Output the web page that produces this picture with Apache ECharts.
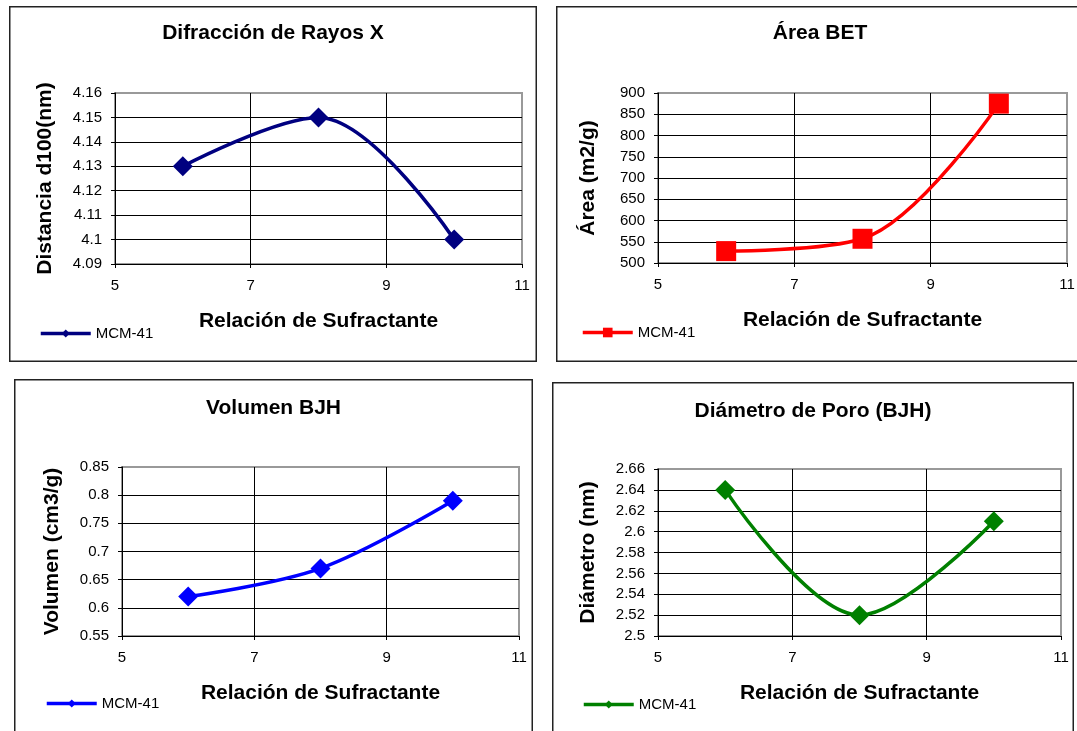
<!DOCTYPE html>
<html>
<head>
<meta charset="utf-8">
<script src="https://cdn.jsdelivr.net/npm/echarts@6/dist/echarts.min.js"></script>
<style>
    html, body { margin: 0; padding: 0; background: #fff; width: 1077px; height: 731px; overflow: hidden; }
    .panel { position: absolute; }
</style>
</head>
<body>
<div id="p1" class="panel" style="left:9px; top:6px; width:528px; height:356px;"></div>
<div id="p2" class="panel" style="left:556px; top:6px; width:528px; height:356px;"></div>
<div id="p3" class="panel" style="left:14px; top:379px; width:519px; height:360px;"></div>
<div id="p4" class="panel" style="left:552px; top:382px; width:522px; height:360px;"></div>
<script>
// datos
const relacion = [6, 8, 10];               // relacion de sufractante (eje x)
const distancia = [4.13, 4.15, 4.10];      // d100 (nm)
const areaBET = [528, 557, 875];           // m2/g
const volumenBJH = [0.62, 0.67, 0.79];     // cm3/g
const diametroBJH = [2.64, 2.52, 2.61];    // nm

// ejes: [min, max, intervalo]
const xRange = [5, 11, 2];
const yDistancia = [4.09, 4.16, 0.01];
const yArea = [500, 900, 50];
const yVolumen = [0.55, 0.85, 0.05];
const yDiametro = [2.5, 2.66, 0.02];

const FONT = "'Liberation Sans', Arial, sans-serif";

function makeOption(p) {
    return {
        animation: false,
        title: {
            text: p.title,
            left: 'center',
            top: p.titleTop,
            textStyle: { fontFamily: FONT, fontSize: 21, fontWeight: 'bold', color: '#000' }
        },
        legend: {
            data: ['MCM-41'],
            left: p.legendLeft,
            top: p.legendTop,
            padding: 0,
            itemWidth: 50,
            itemHeight: p.legendH,
            lineStyle: { width: 3.5 },
            textStyle: { fontFamily: FONT, fontSize: 15, color: '#000' }
        },
        graphic: [{
            type: 'rect',
            shape: { x: 0.75, y: 0.75, width: p.w - 1.5, height: p.h - 1.5 },
            style: { fill: 'none', stroke: '#222', lineWidth: 1.5 },
            silent: true
        }],
        grid: {
            left: p.grid[0], top: p.grid[1], width: p.grid[2], height: p.grid[3],
            show: true,
            borderColor: '#999',
            borderWidth: 2
        },
        xAxis: {
            type: 'value',
            min: xRange[0], max: xRange[1], interval: xRange[2],
            name: 'Relación de Sufractante',
            nameLocation: 'middle',
            nameGap: 47,
            nameTextStyle: { fontFamily: FONT, fontSize: 21, fontWeight: 'bold', color: '#000' },
            axisLine: { show: true, lineStyle: { color: '#000', width: 1 } },
            axisTick: { show: true, inside: false, length: 4, lineStyle: { color: '#000' } },
            axisLabel: { margin: 14, fontFamily: FONT, fontSize: 15, color: '#000' },
            splitLine: { show: true, showMinLine: false, showMaxLine: false, lineStyle: { color: '#000', width: 1 } }
        },
        yAxis: {
            type: 'value',
            min: p.y[0], max: p.y[1], interval: p.y[2],
            name: p.yName,
            nameLocation: 'middle',
            nameGap: 59,
            nameTextStyle: { fontFamily: FONT, fontSize: 21, fontWeight: 'bold', color: '#000' },
            axisLine: { show: true, lineStyle: { color: '#000', width: 1 } },
            axisTick: { show: true, inside: false, length: 4, lineStyle: { color: '#000' } },
            axisLabel: { margin: 13, fontFamily: FONT, fontSize: 15, color: '#000' },
            splitLine: { show: true, showMinLine: false, showMaxLine: false, lineStyle: { color: '#000', width: 1 } }
        },
        series: [{
            name: 'MCM-41',
            type: 'line',
            smooth: 0.35,
            symbol: p.symbol,
            symbolSize: 20,
            lineStyle: { color: p.color, width: 3.5 },
            itemStyle: { color: p.color },
            data: relacion.map((x, i) => [x, p.data[i]])
        }]
    };
}

const panels = [
    { id: 'p1', w: 528, h: 356, title: 'Difracción de Rayos X', titleTop: 12, yName: 'Distancia d100(nm)',
      y: yDistancia, data: distancia, color: '#000080', symbol: 'diamond', legendH: 10,
      grid: [106, 87, 407, 171], legendLeft: 30, legendTop: 320 },
    { id: 'p2', w: 528, h: 356, title: 'Área BET', titleTop: 12, yName: 'Área (m2/g)',
      y: yArea, data: areaBET, color: '#FF0000', symbol: 'rect', legendH: 12,
      grid: [102, 87, 409, 170], legendLeft: 25, legendTop: 319 },
    { id: 'p3', w: 519, h: 360, title: 'Volumen BJH', titleTop: 14, yName: 'Volumen (cm3/g)',
      y: yVolumen, data: volumenBJH, color: '#0000FF', symbol: 'diamond', legendH: 10,
      grid: [108, 88, 397, 169], legendLeft: 31, legendTop: 317 },
    { id: 'p4', w: 522, h: 360, title: 'Diámetro de Poro (BJH)', titleTop: 14, yName: 'Diámetro (nm)',
      y: yDiametro, data: diametroBJH, color: '#008000', symbol: 'diamond', legendH: 10,
      grid: [106, 87, 403, 167], legendLeft: 30, legendTop: 315 }
];

panels.forEach(function (p) {
    const chart = echarts.init(document.getElementById(p.id), null, { renderer: 'canvas' });
    chart.setOption(makeOption(p));
});
</script>
</body>
</html>
